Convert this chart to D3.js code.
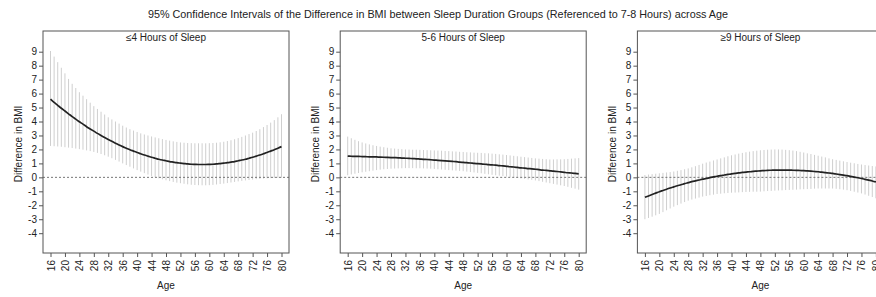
<!DOCTYPE html>
<meta charset="utf-8">
<style>
    body { margin: 0; background: #ffffff; }
    svg { display: block; font-family: Arial, "Liberation Sans", sans-serif; }
</style>

<script src="https://cdn.jsdelivr.net/npm/d3@7"></script>

<svg id="chart" width="876" height="297"></svg>

<script>

// =============================================================================
// CI of BMI difference by sleep group, across age
// =============================================================================

var ages = d3.range(16, 81);          // one CI bar per year of age
var ageTicks = d3.range(16, 81, 4);
var bmiTicks = d3.range(-4, 10);

var panelTitles = ['\u22644 Hours of Sleep', '5-6 Hours of Sleep', '\u22659 Hours of Sleep'];

// <=4 hours
var meanShort = [
    5.60, 5.37, 5.16, 4.95, 4.75, 4.55, 4.35, 4.17, 3.98, 3.81, 3.63, 3.47, 3.31,
    3.15, 3.00, 2.85, 2.71, 2.58, 2.45, 2.32, 2.20, 2.09, 1.98, 1.88, 1.78, 1.69,
    1.60, 1.52, 1.44, 1.37, 1.30, 1.24, 1.19, 1.13, 1.09, 1.05, 1.02, 0.99, 0.96,
    0.94, 0.93, 0.92, 0.92, 0.92, 0.93, 0.94, 0.96, 0.99, 1.02, 1.05, 1.09, 1.13,
    1.19, 1.24, 1.30, 1.37, 1.44, 1.52, 1.60, 1.69, 1.78, 1.88, 1.98, 2.09, 2.20];
var upperShort = [
    9.05, 8.65, 8.25, 7.85, 7.45, 7.05, 6.70, 6.40, 6.10, 5.85, 5.60, 5.35, 5.10,
    4.90, 4.70, 4.50, 4.30, 4.15, 4.00, 3.85, 3.70, 3.57, 3.45, 3.35, 3.25, 3.15,
    3.07, 3.00, 2.93, 2.86, 2.80, 2.74, 2.68, 2.63, 2.58, 2.54, 2.50, 2.48, 2.46,
    2.45, 2.44, 2.44, 2.44, 2.44, 2.45, 2.46, 2.48, 2.51, 2.55, 2.60, 2.66, 2.73,
    2.81, 2.90, 3.00, 3.10, 3.20, 3.32, 3.45, 3.60, 3.75, 3.92, 4.10, 4.30, 4.52];
var lowerShort = [
    2.25, 2.23, 2.21, 2.19, 2.16, 2.13, 2.10, 2.06, 2.02, 1.98, 1.93, 1.88, 1.82,
    1.75, 1.67, 1.58, 1.48, 1.37, 1.25, 1.13, 1.00, 0.88, 0.76, 0.64, 0.52, 0.41,
    0.30, 0.20, 0.10, 0.01, -0.07, -0.14, -0.21, -0.27, -0.33, -0.38, -0.42, -0.46, -0.50,
    -0.53, -0.55, -0.56, -0.57, -0.57, -0.56, -0.54, -0.51, -0.48, -0.45, -0.41, -0.37, -0.33,
    -0.29, -0.25, -0.22, -0.19, -0.16, -0.13, -0.11, -0.09, -0.07, -0.06, -0.05, -0.04, -0.03];

// 5-6 hours
var meanMid = [
    1.52, 1.51, 1.50, 1.50, 1.49, 1.48, 1.47, 1.47, 1.46, 1.45, 1.44, 1.43, 1.42,
    1.41, 1.40, 1.38, 1.37, 1.36, 1.34, 1.33, 1.31, 1.29, 1.28, 1.26, 1.24, 1.22,
    1.20, 1.18, 1.16, 1.14, 1.12, 1.09, 1.07, 1.05, 1.03, 1.00, 0.98, 0.96, 0.94,
    0.91, 0.89, 0.87, 0.84, 0.82, 0.79, 0.76, 0.74, 0.71, 0.68, 0.66, 0.63, 0.61,
    0.58, 0.55, 0.52, 0.50, 0.47, 0.44, 0.42, 0.39, 0.36, 0.33, 0.31, 0.28, 0.25];
var upperMid = [
    2.92, 2.80, 2.69, 2.59, 2.50, 2.43, 2.36, 2.30, 2.25, 2.20, 2.16, 2.12, 2.08,
    2.06, 2.04, 2.02, 2.00, 1.99, 1.98, 1.98, 1.97, 1.96, 1.95, 1.94, 1.93, 1.92,
    1.91, 1.89, 1.88, 1.86, 1.85, 1.83, 1.82, 1.80, 1.79, 1.77, 1.76, 1.75, 1.73,
    1.72, 1.70, 1.68, 1.65, 1.63, 1.60, 1.57, 1.54, 1.51, 1.48, 1.45, 1.42, 1.39,
    1.36, 1.34, 1.32, 1.30, 1.28, 1.28, 1.29, 1.29, 1.30, 1.32, 1.34, 1.36, 1.38];
var lowerMid = [
    0.15, 0.21, 0.26, 0.31, 0.36, 0.40, 0.44, 0.48, 0.52, 0.55, 0.58, 0.60, 0.62,
    0.63, 0.64, 0.65, 0.66, 0.66, 0.66, 0.65, 0.65, 0.64, 0.63, 0.62, 0.60, 0.58,
    0.56, 0.54, 0.52, 0.50, 0.48, 0.46, 0.44, 0.41, 0.38, 0.35, 0.32, 0.29, 0.25,
    0.22, 0.18, 0.15, 0.12, 0.09, 0.06, 0.03, -0.01, -0.04, -0.08, -0.11, -0.15, -0.18,
    -0.22, -0.27, -0.32, -0.37, -0.42, -0.47, -0.52, -0.57, -0.62, -0.68, -0.75, -0.81, -0.88];

// >=9 hours
var meanLong = [
    -1.43, -1.33, -1.23, -1.13, -1.03, -0.94, -0.85, -0.76, -0.68, -0.60, -0.53, -0.45, -0.38,
    -0.31, -0.25, -0.19, -0.13, -0.08, -0.02, 0.03, 0.08, 0.12, 0.17, 0.21, 0.25, 0.28,
    0.32, 0.35, 0.38, 0.40, 0.43, 0.45, 0.47, 0.48, 0.50, 0.51, 0.52, 0.52, 0.52,
    0.52, 0.52, 0.51, 0.50, 0.49, 0.48, 0.46, 0.44, 0.42, 0.40, 0.37, 0.34, 0.31,
    0.28, 0.24, 0.20, 0.16, 0.12, 0.07, 0.02, -0.03, -0.08, -0.14, -0.20, -0.26, -0.33];
var upperLong = [
    0.17, 0.20, 0.23, 0.26, 0.29, 0.32, 0.35, 0.38, 0.42, 0.47, 0.52, 0.58, 0.64,
    0.72, 0.80, 0.89, 0.98, 1.06, 1.13, 1.21, 1.28, 1.36, 1.43, 1.51, 1.58, 1.64,
    1.70, 1.75, 1.80, 1.84, 1.88, 1.91, 1.94, 1.96, 1.98, 1.99, 2.00, 2.00, 1.99,
    1.97, 1.95, 1.92, 1.88, 1.83, 1.78, 1.72, 1.67, 1.61, 1.55, 1.49, 1.43, 1.36,
    1.30, 1.25, 1.20, 1.15, 1.10, 1.05, 1.01, 0.96, 0.92, 0.88, 0.85, 0.81, 0.78];
var lowerLong = [
    -3.00, -2.91, -2.82, -2.72, -2.62, -2.49, -2.36, -2.23, -2.10, -1.99, -1.88, -1.77, -1.67,
    -1.59, -1.52, -1.45, -1.38, -1.33, -1.28, -1.24, -1.19, -1.17, -1.14, -1.12, -1.10, -1.09,
    -1.08, -1.06, -1.05, -1.04, -1.03, -1.03, -1.02, -1.00, -0.98, -0.97, -0.95, -0.94, -0.93,
    -0.91, -0.90, -0.89, -0.88, -0.86, -0.85, -0.84, -0.83, -0.81, -0.80, -0.80, -0.80, -0.80,
    -0.80, -0.82, -0.85, -0.88, -0.92, -0.97, -1.03, -1.09, -1.15, -1.23, -1.32, -1.41, -1.50];

var means  = [meanShort, meanMid, meanLong];
var uppers = [upperShort, upperMid, upperLong];
var lowers = [lowerShort, lowerMid, lowerLong];


// Layout

var svg = d3.select('svg#chart');

var panelLeft0 = 43, panelStep = 297.2;
var boxW = 246, boxTop = 31, boxBottom = 253;

var y = d3.scaleLinear()
    .domain ([-4, 9])
    .range ([233.2, 51.7]);

svg.append('text')
    .attr ('x', 438)
    .attr ('y', 18)
    .attr ('text-anchor', 'middle')
    .attr ('font-size', '10.8px')
    .attr ('fill', '#222')
    .text ('95% Confidence Intervals of the Difference in BMI between Sleep Duration Groups (Referenced to 7-8 Hours) across Age');


panelTitles.forEach (function (title, i) {
    var left = panelLeft0 + i * panelStep;

    var x = d3.scaleLinear()
        .domain ([16, 80])
        .range ([left + 7.5, left + 238.5]);

    var g = svg.append('g');

    var rows = ages.map (function (a, k) {
        return { age: a, mean: means[i][k], lo: lowers[i][k], hi: uppers[i][k] };
    });

    // CI bars
    g.selectAll ('line.ci')
        .data (rows)
        .enter()
        .append ('line')
        .attr ('class', 'ci')
        .attr ('x1', function (d) { return x(d.age); })
        .attr ('x2', function (d) { return x(d.age); })
        .attr ('y1', function (d) { return y(d.lo); })
        .attr ('y2', function (d) { return y(d.hi); })
        .attr ('stroke', '#cfcfcf')
        .attr ('stroke-width', 1);

    // reference line at zero
    g.append ('line')
        .attr ('x1', left)
        .attr ('x2', left + boxW)
        .attr ('y1', y(0))
        .attr ('y2', y(0))
        .attr ('stroke', '#777')
        .attr ('stroke-width', 1)
        .attr ('stroke-dasharray', '2,2');

    // fitted curve
    var line = d3.line()
        .curve (d3.curveMonotoneX)
        .x (function (d) { return x(d.age); })
        .y (function (d) { return y(d.mean); });

    g.append ('path')
        .datum (rows)
        .attr ('d', line)
        .attr ('fill', 'none')
        .attr ('stroke', '#222')
        .attr ('stroke-width', 1.7);

    // frame
    g.append ('rect')
        .attr ('x', left)
        .attr ('y', boxTop)
        .attr ('width', boxW)
        .attr ('height', boxBottom - boxTop)
        .attr ('fill', 'none')
        .attr ('stroke', '#555')
        .attr ('stroke-width', 1);

    // axes (plain hyphen for negatives, as in the original)
    var plain = function (d) { return String(d); };

    var yAxis = g.append ('g')
        .attr ('transform', 'translate(' + left + ',0)')
        .call (d3.axisLeft(y).tickValues(bmiTicks).tickFormat(plain).tickSize(4).tickPadding(2));

    var xAxis = g.append ('g')
        .attr ('transform', 'translate(0,' + boxBottom + ')')
        .call (d3.axisBottom(x).tickValues(ageTicks).tickFormat(plain).tickSize(4).tickPadding(2));

    xAxis.selectAll ('text')
        .attr ('transform', 'rotate(-90)')
        .attr ('text-anchor', 'end')
        .attr ('x', -7)
        .attr ('y', 0)
        .attr ('dy', '0.35em');

    [yAxis, xAxis].forEach (function (ax) {
        ax.select ('.domain').remove();
        ax.selectAll ('line').attr ('stroke', '#555');
        ax.selectAll ('text')
            .attr ('font-size', '10px')
            .attr ('font-family', 'Arial, "Liberation Sans", sans-serif')
            .attr ('fill', '#222');
    });

    // labels
    g.append ('text')
        .attr ('x', left + boxW / 2)
        .attr ('y', 41)
        .attr ('text-anchor', 'middle')
        .attr ('font-size', '10px')
        .attr ('fill', '#222')
        .text (title);

    g.append ('text')
        .attr ('x', left + boxW / 2)
        .attr ('y', 289)
        .attr ('text-anchor', 'middle')
        .attr ('font-size', '10px')
        .attr ('fill', '#222')
        .text ('Age');

    g.append ('text')
        .attr ('transform', 'translate(' + (left - 21) + ',144) rotate(-90)')
        .attr ('text-anchor', 'middle')
        .attr ('font-size', '10px')
        .attr ('fill', '#222')
        .text ('Difference in BMI');
});

</script>
